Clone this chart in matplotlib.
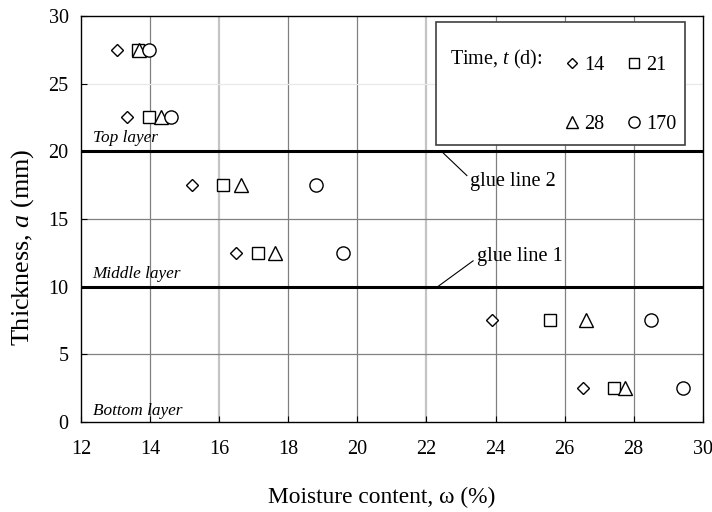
import matplotlib
matplotlib.use("Agg")
import matplotlib.pyplot as plt
from matplotlib.patches import Rectangle

plt.rcParams['font.family'] = ['Liberation Serif', 'DejaVu Serif']
plt.rcParams['mathtext.fontset'] = 'custom'
plt.rcParams['mathtext.it'] = 'Liberation Serif:italic'
plt.rcParams['mathtext.rm'] = 'Liberation Serif'

# Thickness position of each measuring slice (mm)
thickness = [27.5, 22.5, 17.5, 12.5, 7.5, 2.5]

# Moisture content (%) at each slice after t days
moisture_14 = [13.03, 13.33, 15.22, 16.47, 23.91, 26.53]
moisture_21 = [13.64, 13.96, 16.11, 17.13, 25.57, 27.43]
moisture_28 = [13.67, 14.30, 16.62, 17.61, 26.63, 27.74]
moisture_170 = [13.97, 14.60, 18.79, 19.59, 28.51, 29.43]

series_labels = ['14', '21', '28', '170']
glue_lines = [10, 20]
x_ticks = [12, 14, 16, 18, 20, 22, 24, 26, 28, 30]
y_ticks = [0, 5, 10, 15, 20, 25, 30]

fig = plt.figure(figsize=(7.12, 5.12), dpi=100)
ax = fig.add_axes([0.114, 0.176, 0.873, 0.793])

ax.set_xlim(12, 30)
ax.set_ylim(0, 30)
ax.set_xticks(x_ticks)
ax.set_yticks(y_ticks)
ax.tick_params(axis='both', labelsize=14.5, length=4, direction='in', width=0.8)
ax.tick_params(axis='x', pad=13)
ax.tick_params(axis='y', pad=9)

# grid
for xv in x_ticks[1:-1]:
    light = xv in (16, 22)
    ax.axvline(xv, color='#c4c4c4' if light else '#808080',
               lw=1.6 if light else 0.9, zorder=0)
for yv in (5, 15):
    ax.axhline(yv, color='#808080', lw=0.9, zorder=0)
ax.axhline(25, color='#e8e8e8', lw=0.9, zorder=0)
for yv in glue_lines:
    ax.axhline(yv, color='black', lw=2.2, zorder=1)

for sp in ax.spines.values():
    sp.set_linewidth(1.0)

mk = dict(linestyle='none', mfc='white', mec='black', mew=1.0, zorder=3)
series = [moisture_14, moisture_21, moisture_28, moisture_170]
markers = ['D', 's', '^', 'o']
sizes = [6, 9, 10, 9.5]
handles = []
for vals, m, s, lab in zip(series, markers, sizes, series_labels):
    h, = ax.plot(vals, thickness, marker=m, markersize=s, label=lab, **mk)
    handles.append(h)

ax.set_xlabel('Moisture content, ω (%)', fontsize=16.8)
ax.xaxis.set_label_coords(0.483, -0.16)
ax.set_ylabel('Thickness, $a$ (mm)', fontsize=18.8)
ax.yaxis.set_label_coords(-0.072, 0.43)

# layer names
layer_kw = dict(fontsize=12.4, style='italic', va='center', ha='left')
ax.text(12.33, 21.0, 'Top layer', **layer_kw)
ax.text(12.33, 10.9, 'Middle layer', **layer_kw)
ax.text(12.33, 0.8, 'Bottom layer', **layer_kw)

# glue line callouts
ax.plot([22.43, 23.17], [20.0, 18.2], color='black', lw=0.8, zorder=2)
ax.text(23.25, 17.75, 'glue line 2', fontsize=14.7, va='center', ha='left')
ax.plot([22.33, 23.35], [10.0, 11.9], color='black', lw=0.8, zorder=2)
ax.text(23.45, 12.2, 'glue line 1', fontsize=14.7, va='center', ha='left')

# legend box
box = Rectangle((0.571, 0.682), 0.40, 0.303, transform=ax.transAxes,
                fill=True, facecolor='white', edgecolor='#404040', lw=1.2, zorder=4)
ax.add_patch(box)
ax.text(0.593, 0.893, 'Time, $t$ (d):', transform=ax.transAxes, fontsize=14.5,
        va='center', ha='left', zorder=5)
order = [0, 2, 1, 3]
leg = ax.legend([handles[i] for i in order], [series_labels[i] for i in order],
                ncol=2, loc='upper left', bbox_to_anchor=(0.751, 0.947),
                frameon=False, fontsize=14.5, handlelength=0.6, handletextpad=0.3,
                columnspacing=1.15, labelspacing=2.0, markerscale=0.85)
leg.set_zorder(6)

fig.savefig('out.png', dpi=100)
